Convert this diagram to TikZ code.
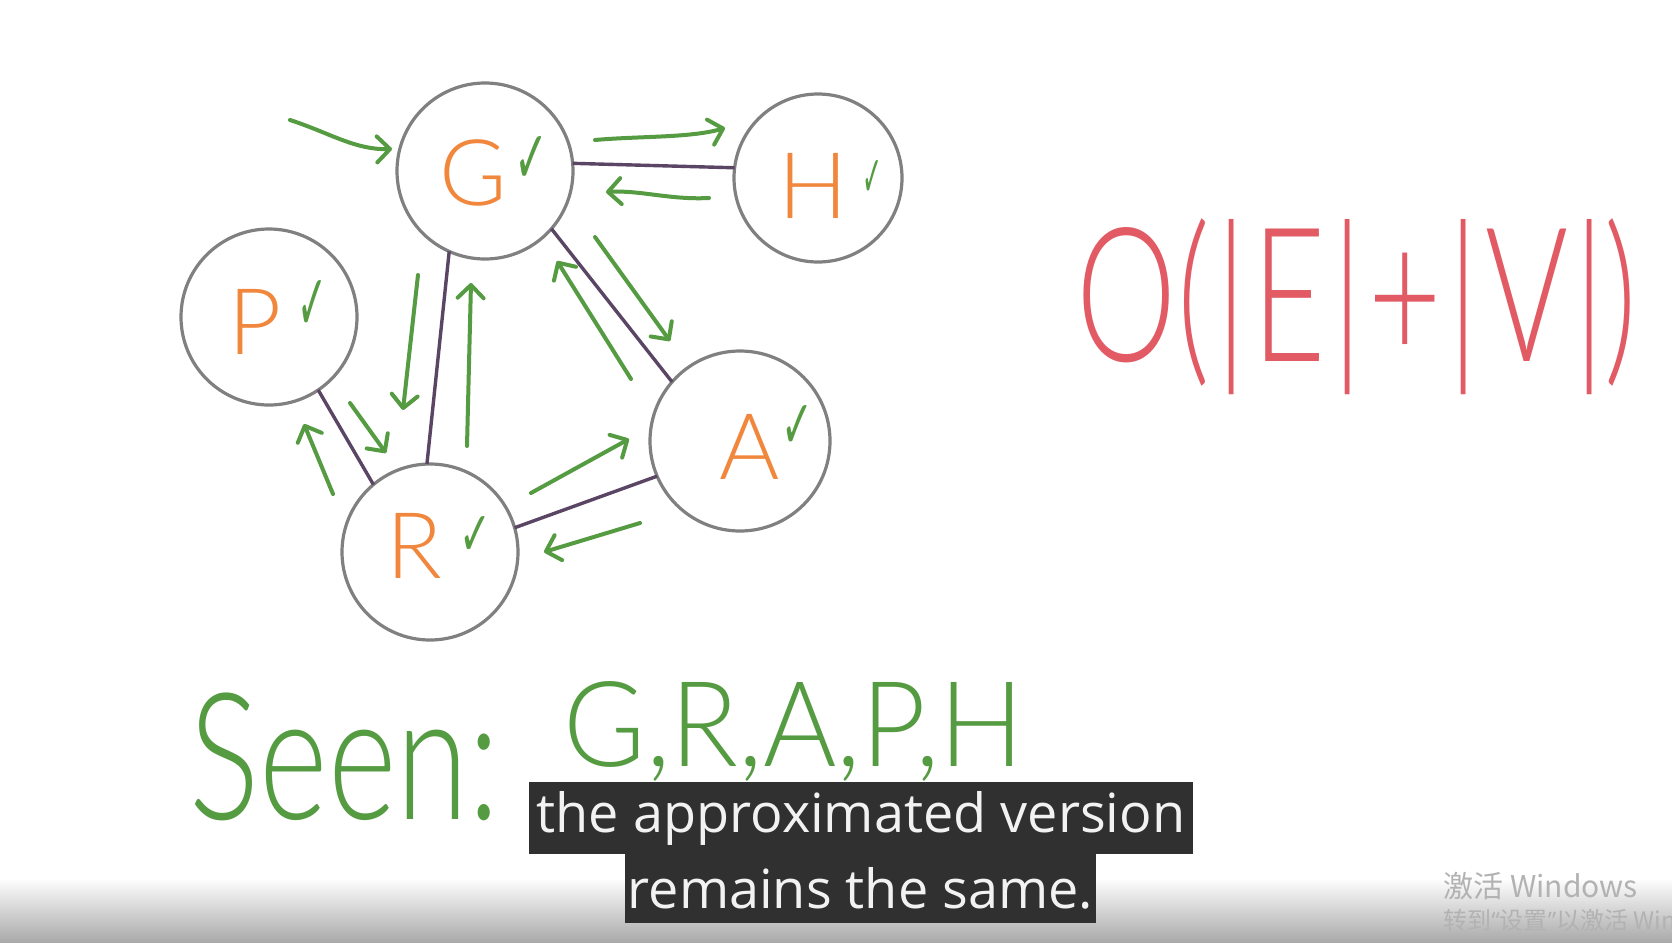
\documentclass[tikz,border=0pt]{standalone}
\usepackage{fontspec}
\usepackage{graphicx}
\usetikzlibrary{arrows.meta}
\newfontfamily\hand{Lato Light}
\newfontfamily\subfont{Open Sans}
\newfontfamily\cjk{Noto Sans CJK SC}
\newfontfamily\sym{DejaVu Sans}
\definecolor{ring}{RGB}{128,128,128}
\definecolor{edgec}{RGB}{90,70,100}
\definecolor{grn}{RGB}{85,155,65}
\definecolor{org}{RGB}{240,135,60}
\definecolor{redh}{RGB}{225,90,100}
\definecolor{subbg}{RGB}{48,48,48}
\definecolor{subtx}{RGB}{242,242,242}
\definecolor{wm}{RGB}{178,178,178}
\definecolor{barmid}{RGB}{232,232,232}
\definecolor{barbot}{RGB}{168,168,168}
\begin{document}
\begin{tikzpicture}[x=0.5pt,y=-0.5pt,
 vtx/.style={circle,draw=ring,line width=1.6pt,fill=white,inner sep=0pt,outer sep=0pt},
 lnk/.style={draw=edgec,line width=1.7pt},
 trav/.style={draw=grn,line width=2pt,line cap=round,-{Straight Barb[length=6.5pt,width=13pt,round]}},
 letter/.style={text=org,font=\hand\fontsize{46}{46}\selectfont,inner sep=0pt},
 tick/.style={text=grn,inner sep=0pt},
 subbox/.style={fill=subbg,text=subtx,inner sep=0pt,font=\subfont\fontsize{27}{27}\selectfont},
 wmark/.style={text=wm,inner sep=0pt,anchor=base west},
]
\useasboundingbox (0,0) rectangle (1672,943);
\fill[white] (0,0) rectangle (1672,943);
\shade[top color=white,middle color=barmid,bottom color=barbot] (0,878) rectangle (1672,943);
\fill[white] (0,878) rectangle (1672,880);

% vertices
\node[vtx,minimum size=88pt] (cG) at (485,171) {};
\node[vtx,minimum size=84pt] (cH) at (818,178) {};
\node[vtx,minimum size=88pt] (cP) at (269,317) {};
\node[vtx,minimum size=88pt] (cR) at (430,552) {};
\node[vtx,minimum size=90pt] (cA) at (740,441) {};

% edges
\draw[lnk] (cG.5) -- (cH.173);
\draw[lnk] (cG.246) -- (cR.92);
\draw[lnk] (cG.-41) -- (cA.139);
\draw[lnk] (cP.-56) -- (cR.130);
\draw[lnk] (cR.16) -- (cA.203);

% letters and ticks
\node[letter] (lG) at (473,173) {G};
\node[tick] (tG) at (531,160) {\resizebox*{17pt}{23.5pt}{\sym ✓}};
\node[letter] (lH) at (813,186) {H};
\node[tick] (tH) at (872,178) {\resizebox*{10pt}{18pt}{\sym ✓}};
\node[letter] (lP) at (255,322) {P};
\node[tick] (tP) at (312,305) {\resizebox*{15pt}{25pt}{\sym ✓}};
\node[letter] (lR) at (414,546) {R};
\node[tick] (tR) at (475,536) {\resizebox*{16pt}{19.5pt}{\sym ✓}};
\node[letter] (lA) at (750,447) {A};
\node[tick] (tA) at (797,427) {\resizebox*{16pt}{21.5pt}{\sym ✓}};

% traversal arrows
\coordinate (s1) at (290,120); \coordinate (e1) at (392,149);
\coordinate (s2) at (595,140); \coordinate (e2) at (725,128);
\coordinate (s3) at (709,198); \coordinate (e3) at (606,192);
\coordinate (s4) at (595,237); \coordinate (e4) at (670,341);
\coordinate (s5) at (631,379); \coordinate (e5) at (557,261);
\coordinate (s6) at (418,275); \coordinate (e6) at (403,410);
\coordinate (s7) at (467,446); \coordinate (e7) at (471,283);
\coordinate (s8) at (350,403); \coordinate (e8) at (386,453);
\coordinate (s9) at (333,494); \coordinate (e9) at (304,424);
\coordinate (s10) at (531,493); \coordinate (e10) at (629,439);
\coordinate (s11) at (640,523); \coordinate (e11) at (544,552);
\draw[trav] (s1) .. controls (330,133) and (355,150) .. (e1);
\draw[trav] (s2) .. controls (640,136) and (690,138) .. (e2);
\draw[trav] (s3) .. controls (670,200) and (640,190) .. (e3);
\draw[trav] (s4) -- (e4);
\draw[trav] (s5) -- (e5);
\draw[trav] (s6) -- (e6);
\draw[trav] (s7) -- (e7);
\draw[trav] (s8) -- (e8);
\draw[trav] (s9) -- (e9);
\draw[trav] (s10) -- (e10);
\draw[trav] (s11) -- (e11);

% complexity
\node[text=redh,inner sep=0pt] (cplx) at (1357,307) {\resizebox*{280pt}{88pt}{\hand O(\kern0.05em|\kern0.05em E\kern0.05em|\kern0.05em+\kern0.05em|\kern0.05em V\kern0.05em|)}};

% seen list
\node[text=grn,inner sep=0pt] (seen) at (345,757) {\resizebox*{155pt}{64pt}{\hand Seen:}};
\node[text=grn,inner sep=0pt] (seenlist) at (794,732) {\resizebox*{230pt}{50pt}{\hand G,R,A,P,H}};

% subtitles
\node[subbox,minimum width=332pt,minimum height=36pt] (sub1) at (861,818) {the approximated version};
\node[subbox,minimum width=235.5pt,minimum height=34.5pt] (sub2) at (860.5,888.5) {remains the same.};

% watermark
\begin{scope}
\clip (0,0) rectangle (1672,943);
\node[wmark,font=\cjk\fontsize{15}{15}\selectfont] (wm1) at (1443,897) {激活 Windows};
\node[wmark,font=\cjk\fontsize{12}{12}\selectfont] (wm2) at (1443,929) {转到{\subfont “}设置{\subfont ”}以激活 Windows};
\end{scope}
\end{tikzpicture}
\end{document}
